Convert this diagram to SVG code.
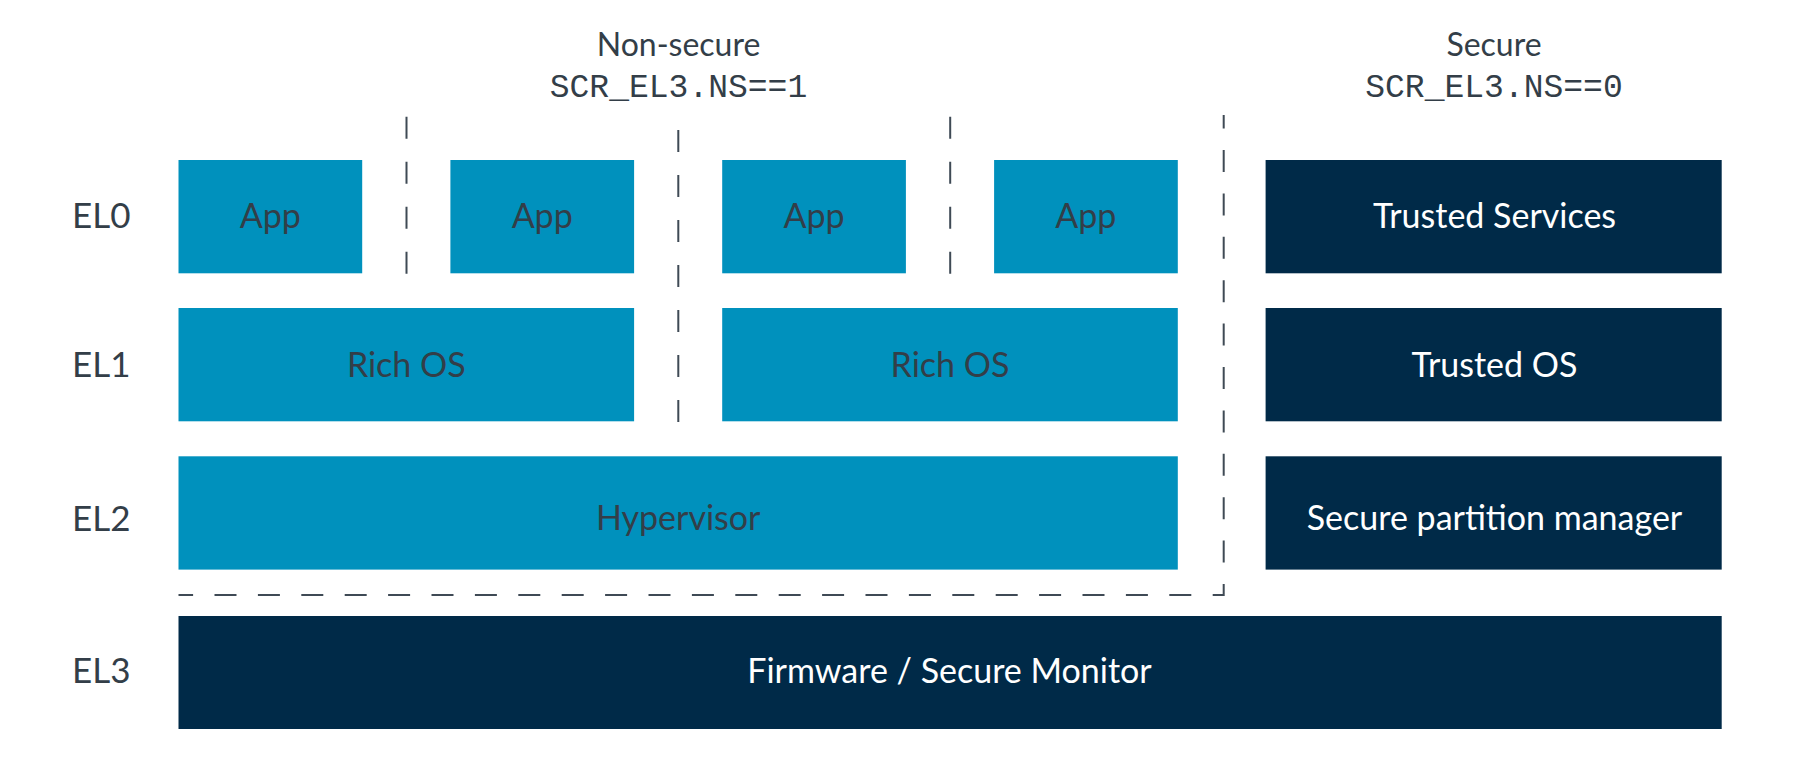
<svg xmlns="http://www.w3.org/2000/svg" width="1807" height="775" viewBox="0 0 1807 775">
<style>
.ns{fill:#0091bd}
.s{fill:#002a48}
.t{font-family:Lato,"Liberation Sans",sans-serif;font-size:34px;text-anchor:middle}
.h{font-family:Lato,"Liberation Sans",sans-serif;font-size:32px;text-anchor:middle;fill:#333e48}
.dk{fill:#333e48}
.wh{fill:#ffffff}
.lbl{font-family:Lato,"Liberation Sans",sans-serif;font-size:35px;fill:#333e48}
.mono{font-family:"Liberation Mono","DejaVu Sans Mono",monospace;font-size:33px;fill:#333e48;text-anchor:middle}
.d{fill:none;stroke:#3f4a55;stroke-width:2}
</style>
<rect width="1807" height="775" fill="#ffffff"/>
<g id="headers">
<text class="h" x="678.5" y="56">Non-secure</text>
<text class="mono" x="678.5" y="96.7">SCR_EL3.NS==1</text>
<text class="h" x="1494" y="56">Secure</text>
<text class="mono" x="1494" y="96.7">SCR_EL3.NS==0</text>
</g>
<g id="levels">
<text class="lbl" x="72" y="227.5">EL0</text>
<text class="lbl" x="72" y="376.5">EL1</text>
<text class="lbl" x="72" y="530.5">EL2</text>
<text class="lbl" x="72" y="682.5">EL3</text>
</g>
<g id="connectors">
<path class="d" d="M406.5,116.7V274" stroke-dasharray="22 23"/>
<path class="d" d="M678.3,130V422" stroke-dasharray="22 23"/>
<path class="d" d="M950.2,116.7V274" stroke-dasharray="22 23"/>
<path class="d" d="M1223.7,115V595H178.5" stroke-dasharray="22 21.4" stroke-dashoffset="8.4"/>
</g>
<g id="app1"><rect class="ns" x="178.5" y="160" width="183.7" height="113.3"/><text class="t dk" x="270.3" y="227.5">App</text></g>
<g id="app2"><rect class="ns" x="450.4" y="160" width="183.7" height="113.3"/><text class="t dk" x="542.2" y="227.5">App</text></g>
<g id="app3"><rect class="ns" x="722.2" y="160" width="183.7" height="113.3"/><text class="t dk" x="814" y="227.5">App</text></g>
<g id="app4"><rect class="ns" x="994.1" y="160" width="183.7" height="113.3"/><text class="t dk" x="1085.9" y="227.5">App</text></g>
<g id="trusted-services"><rect class="s" x="1265.6" y="160" width="456.1" height="113.3"/><text class="t wh" x="1494.5" y="227.5">Trusted Services</text></g>
<g id="richos1"><rect class="ns" x="178.5" y="308" width="455.6" height="113.3"/><text class="t dk" x="406.3" y="376.5">Rich OS</text></g>
<g id="richos2"><rect class="ns" x="722.2" y="308" width="455.6" height="113.3"/><text class="t dk" x="950" y="376.5">Rich OS</text></g>
<g id="trusted-os"><rect class="s" x="1265.6" y="308" width="456.1" height="113.3"/><text class="t wh" x="1494.5" y="376.5">Trusted OS</text></g>
<g id="hypervisor"><rect class="ns" x="178.5" y="456.3" width="999.3" height="113.3"/><text class="t dk" x="678.2" y="529.5">Hypervisor</text></g>
<g id="spm"><rect class="s" x="1265.6" y="456.3" width="456.1" height="113.3"/><text class="t wh" x="1494.5" y="529.5">Secure partition manager</text></g>
<g id="firmware"><rect class="s" x="178.5" y="616" width="1543.2" height="113"/><text class="t wh" x="949.5" y="682.5">Firmware / Secure Monitor</text></g>
</svg>
